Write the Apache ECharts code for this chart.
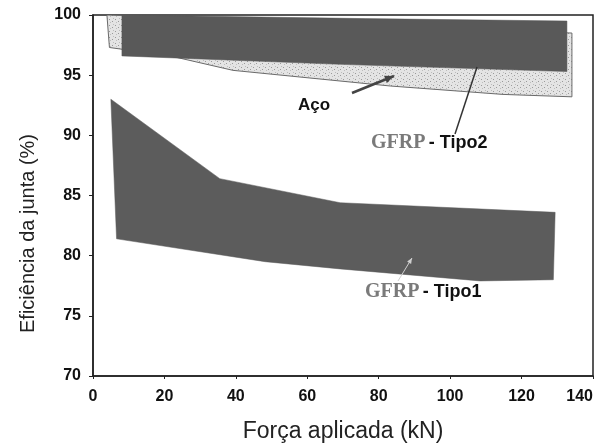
<!DOCTYPE html>
<html>
<head>
<meta charset="utf-8">
<script src="https://cdn.jsdelivr.net/npm/echarts@6/dist/echarts.min.js"></script>
<style>
  html, body { margin: 0; padding: 0; background: #fff; }
  #main { width: 598px; height: 448px; }
</style>
</head>
<body>
<div id="main"></div>
<script>
// faixas (Força aplicada kN, Eficiência %)
var acoX = [3.9, 134.1, 134.1, 114.8, 83.2, 39.2, 21.6, 4.6];
var acoY = [100, 98.5, 93.2, 93.4, 94.1, 95.4, 96.6, 97.3];

var tipo2X = [8.1, 76.3, 132.7, 132.7, 69.2, 8.1];
var tipo2Y = [100, 99.7, 99.5, 95.3, 95.9, 96.6];

var tipo1X = [5.0, 35.5, 69.2, 129.4, 128.9, 108.4, 69.2, 48.2, 6.6];
var tipo1Y = [93.0, 86.4, 84.4, 83.6, 78.0, 77.9, 78.9, 79.5, 81.4];

var xTicks = [0, 20, 40, 60, 80, 100, 120, 140];
var yTicks = [70, 75, 80, 85, 90, 95, 100];

// textura pontilhada do aço
function speckle() {
    var c = document.createElement('canvas');
    c.width = 6; c.height = 6;
    var ctx = c.getContext('2d');
    ctx.fillStyle = '#e4e4e4';
    ctx.fillRect(0, 0, 6, 6);
    ctx.fillStyle = '#9a9a9a';
    ctx.fillRect(1, 1, 1, 1);
    ctx.fillRect(4, 3, 1, 1);
    ctx.fillStyle = '#bdbdbd';
    ctx.fillRect(2, 4, 1, 1);
    ctx.fillRect(5, 0, 1, 1);
    return c;
}

function faixa(name, xs, ys, style) {
    return {
        type: 'custom',
        name: name,
        clip: true,
        encode: { x: 0, y: 1 },
        data: xs.map(function (x, i) { return [x, ys[i]]; }),
        renderItem: function (params, api) {
            if (params.dataIndex !== 0) return;
            var pts = xs.map(function (x, i) { return api.coord([x, ys[i]]); });
            return { type: 'polygon', shape: { points: pts }, style: style };
        }
    };
}

function seta(x1, y1, x2, y2, cor, w, head) {
    var a = Math.atan2(y2 - y1, x2 - x1);
    var h = head || 9;
    var items = [{
        type: 'line', z: 100, shape: { x1: x1, y1: y1, x2: x2, y2: y2 },
        style: { stroke: cor, lineWidth: w }
    }];
    if (head !== 0) {
        items.push({
            type: 'polygon', z: 100,
            shape: { points: [
                [x2, y2],
                [x2 - h * Math.cos(a - 0.4), y2 - h * Math.sin(a - 0.4)],
                [x2 - h * Math.cos(a + 0.4), y2 - h * Math.sin(a + 0.4)]
            ] },
            style: { fill: cor }
        });
    }
    return items;
}

var rotulo = {
    g: { fontFamily: 'Liberation Serif', fontWeight: 'bold', fontSize: 20, fill: '#7a7a7a' },
    t: { fontFamily: 'Liberation Sans', fontWeight: 'bold', fontSize: 18, fill: '#111' }
};

var myChart = echarts.init(document.getElementById('main'));

var option = {
    backgroundColor: '#fff',
    animation: false,
    grid: {
        left: 93, right: 5, top: 15, bottom: 71,
        show: true, borderColor: '#222', borderWidth: 1.5,
        containLabel: false
    },
    xAxis: {
        type: 'value', min: 0, max: 140, interval: 20,
        name: 'Força aplicada (kN)',
        nameLocation: 'middle', nameGap: 44,
        nameTextStyle: { fontFamily: 'Liberation Sans', fontSize: 23, color: '#222' },
        axisLine: { show: true, lineStyle: { color: '#222', width: 1.5 } },
        axisTick: { show: true, length: 3, lineStyle: { color: '#222' } },
        splitLine: { show: false },
        axisLabel: {
            margin: 13, color: '#111', fontWeight: 'bold', fontSize: 16,
            fontFamily: 'Liberation Sans', alignMaxLabel: 'right',
            customValues: xTicks
        }
    },
    yAxis: {
        type: 'value', min: 70, max: 100, interval: 5,
        name: 'Eficiência da junta (%)',
        nameLocation: 'middle', nameGap: 55,
        nameTextStyle: { fontFamily: 'Liberation Sans', fontSize: 20, color: '#222', padding: [0, 76, 0, 0] },
        axisLine: { show: true, lineStyle: { color: '#222', width: 1.5 } },
        axisTick: { show: true, length: 4, lineStyle: { color: '#222' } },
        splitLine: { show: false },
        axisLabel: {
            margin: 12, color: '#111', fontWeight: 'bold', fontSize: 16,
            fontFamily: 'Liberation Sans', customValues: yTicks
        }
    },
    series: [
        faixa('Aço', acoX, acoY, {
            fill: { image: speckle(), repeat: 'repeat' },
            stroke: '#6a6a6a', lineWidth: 1
        }),
        faixa('GFRP - Tipo2', tipo2X, tipo2Y, { fill: '#595959', stroke: '#555', lineWidth: 0.5 }),
        faixa('GFRP - Tipo1', tipo1X, tipo1Y, { fill: '#5c5c5c', stroke: '#585858', lineWidth: 0.5 })
    ],
    graphic: [
        { type: 'text', z: 100, left: 298, top: 97, style: { text: 'Aço', font: 'bold 17px "Liberation Sans"', fill: '#111' } },
        { type: 'text', z: 100, left: 371, top: 133, style: { text: '{g|GFRP} {t|- Tipo2}', rich: rotulo } },
        { type: 'text', z: 100, left: 365, top: 282, style: { text: '{g|GFRP} {t|- Tipo1}', rich: rotulo } }
    ].concat(seta(352, 93, 394, 76, '#444', 2.5, 10))
     .concat(seta(455, 134, 477, 67, '#333', 1.5, 0))
     .concat(seta(398, 281, 412, 258, '#d0d0d0', 1, 6))
};

myChart.setOption(option);
</script>
</body>
</html>
